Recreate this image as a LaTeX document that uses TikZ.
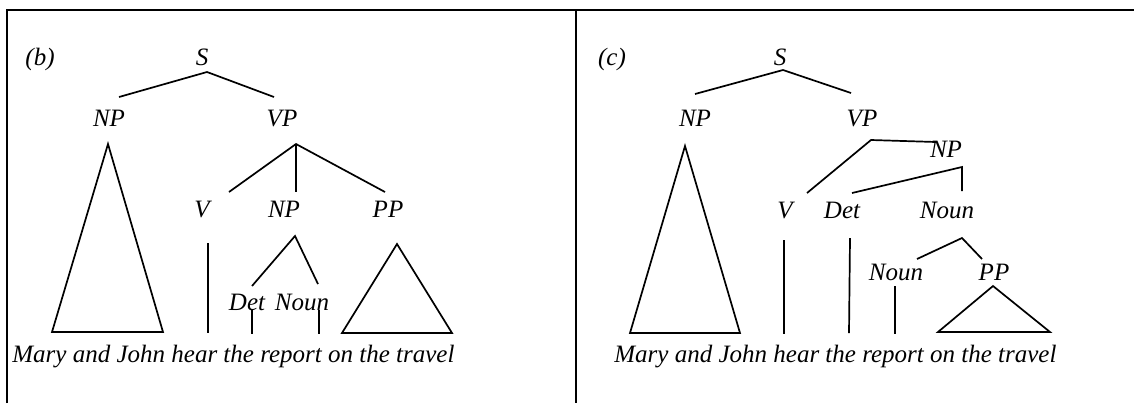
\documentclass[tikz,border=0pt]{standalone}
\usepackage{fontspec}
\setmainfont{Liberation Serif}

\begin{document}
\begin{tikzpicture}[x=0.5pt, y=-0.5pt, lab/.style={anchor=base, inner sep=0pt, font=\fontsize{12.5}{15}\selectfont\itshape}, sent/.style={lab, anchor=base west}, branch/.style={line width=0.85pt, black}, frame/.style={line width=1pt, black}]
  \useasboundingbox (0,0) rectangle (1134,403);
  \draw[frame] (7,403) -- (7,10) -- (1134,10);
  \draw[frame] (576,10) -- (576,403);

  % tree (b)
  \begin{scope}[shift={(0,0)}]
    \node (b-tag) at (40,65) [lab] {(b)};
    \node (b-S) at (202,65) [lab] {S};
    \node (b-NP) at (109,126) [lab] {NP};
    \node (b-VP) at (282,126) [lab] {VP};
    \node (b-V) at (202,217) [lab] {V};
    \node (b-NPo) at (284,217) [lab] {NP};
    \node (b-PP) at (388,217) [lab] {PP};
    \node (b-Det) at (247,310) [lab] {Det};
    \node (b-Noun) at (302,310) [lab] {Noun};
    \node (b-sent) at (12,362) [sent] {Mary and John hear the report on the travel};

    \coordinate (b-s) at (207,72);
    \coordinate (b-sl) at (119,97);
    \coordinate (b-sr) at (274,97);
    \coordinate (b-vp) at (296,144);
    \coordinate (b-vpl) at (229,192);
    \coordinate (b-vpm) at (296,192);
    \coordinate (b-vpr) at (385,192);
    \coordinate (b-np) at (295,236);
    \coordinate (b-npl) at (252,286);
    \coordinate (b-npr) at (318,284);
    \coordinate (b-v) at (208,243);
    \coordinate (b-vw) at (208,333);
    \coordinate (b-det) at (252,310);
    \coordinate (b-detw) at (252,334);
    \coordinate (b-noun) at (319,310);
    \coordinate (b-nounw) at (319,334);

    \draw[branch] (b-sl) -- (b-s) -- (b-sr);
    \draw[branch] (b-vpl) -- (b-vp) -- (b-vpr);
    \draw[branch] (b-vp) -- (b-vpm);
    \draw[branch] (b-npl) -- (b-np) -- (b-npr);
    \draw[branch] (b-v) -- (b-vw);
    \draw[branch] (b-det) -- (b-detw);
    \draw[branch] (b-noun) -- (b-nounw);
    \draw[branch] (108,144) -- (52,332) -- (163,332) -- cycle;
    \draw[branch] (397,244) -- (342,333) -- (452,333) -- cycle;
  \end{scope}

  % tree (c)
  \begin{scope}[shift={(576,0)}]
    \node (c-tag) at (36,65) [lab] {(c)};
    \node (c-S) at (204,65) [lab] {S};
    \node (c-NP) at (119,126) [lab] {NP};
    \node (c-VP) at (286,126) [lab] {VP};
    \node (c-NPo) at (370,157) [lab] {NP};
    \node (c-V) at (209,218) [lab] {V};
    \node (c-Det) at (266,218) [lab] {Det};
    \node (c-Noun) at (371,218) [lab] {Noun};
    \node (c-Nouni) at (320,280) [lab] {Noun};
    \node (c-PP) at (418,280) [lab] {PP};
    \node (c-sent) at (38,362) [sent] {Mary and John hear the report on the travel};

    \coordinate (c-s) at (207,70);
    \coordinate (c-sl) at (119,94);
    \coordinate (c-sr) at (275,93);
    \coordinate (c-vp) at (295,140);
    \coordinate (c-vpl) at (231,193);
    \coordinate (c-vpr) at (360,142);
    \coordinate (c-np) at (386,167);
    \coordinate (c-npl) at (276,193);
    \coordinate (c-npd) at (386,191);
    \coordinate (c-nn) at (386,238);
    \coordinate (c-nnl) at (341,259);
    \coordinate (c-nnr) at (406,259);
    \coordinate (c-v) at (208,240);
    \coordinate (c-vw) at (208,334);
    \coordinate (c-det) at (274,238);
    \coordinate (c-detw) at (273,333);
    \coordinate (c-noun) at (319,286);
    \coordinate (c-nounw) at (319,334);

    \draw[branch] (c-sl) -- (c-s) -- (c-sr);
    \draw[branch] (c-vpl) -- (c-vp) -- (c-vpr);
    \draw[branch] (c-npl) -- (c-np) -- (c-npd);
    \draw[branch] (c-nnl) -- (c-nn) -- (c-nnr);
    \draw[branch] (c-v) -- (c-vw);
    \draw[branch] (c-det) -- (c-detw);
    \draw[branch] (c-noun) -- (c-nounw);
    \draw[branch] (109,146) -- (54,333) -- (164,333) -- cycle;
    \draw[branch] (417,286) -- (362,332) -- (474,332) -- cycle;
  \end{scope}
\end{tikzpicture}
\end{document}
